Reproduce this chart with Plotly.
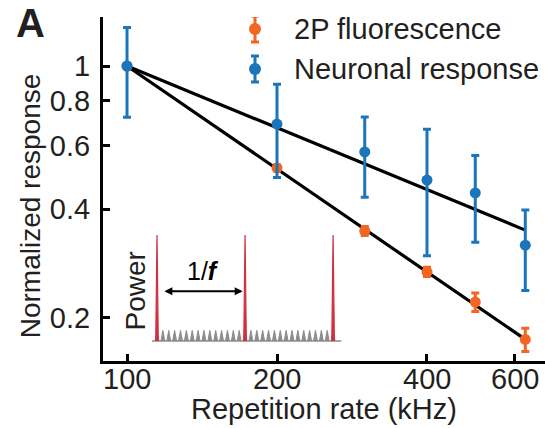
import math
import plotly.graph_objects as go

# Normalized response vs. laser repetition rate
rates = [100, 200, 300, 400, 500, 630]
fluorescence = [1.0, 0.521, 0.348, 0.268, 0.221, 0.174]
fluorescence_err = [0.0, 0.010, 0.010, 0.008, 0.013, 0.013]
neuronal = [1.0, 0.690, 0.577, 0.482, 0.444, 0.318]
neuronal_err = [0.28, 0.20, 0.145, 0.185, 0.12, 0.08]

# Power-law fits
fit_rates = [100, 630]
fit_fluorescence = [1.0, 0.174]
fit_neuronal = [1.0, 0.35]

x_ticks = [100, 200, 400, 600]
x_ticklabels = ["100", "200", "400", "600"]
y_ticks = [0.2, 0.4, 0.6, 0.8, 1]
y_ticklabels = ["0.2", "0.4", "0.6", "0.8", "1"]

series_names = ["2P fluorescence", "Neuronal response"]

# Inset: pulse train schematic (time in units of the fast pulse period)
fast_pulse_times = [0, 1, 2, 3, 4, 5, 6, 7, 8, 9, 10, 11, 12, 13, 14, 15,
                    16, 17, 18, 19, 20, 21, 22, 23, 24, 25, 26, 27, 28, 29, 30]
fast_pulse_height = 0.1
slow_pulse_times = [0, 15, 30]
slow_pulse_height = 1.0

ORANGE = "#F26522"
BLUE = "#1B75BB"
RED = "#D2303F"
GRAY = "#8C8C8C"
TEXT = "#231F20"
FONT = "Liberation Sans, Arial, sans-serif"
FS = 29

fig = go.Figure()

fig.add_trace(go.Scatter(x=fit_rates, y=fit_neuronal, mode="lines",
                         line=dict(color="black", width=3.2), showlegend=False))
fig.add_trace(go.Scatter(x=fit_rates, y=fit_fluorescence, mode="lines",
                         line=dict(color="black", width=3.2), showlegend=False))

fig.add_trace(go.Scatter(
    x=rates, y=fluorescence, mode="markers", name=series_names[0],
    marker=dict(color=ORANGE, size=11), showlegend=False, cliponaxis=False,
    error_y=dict(type="data", array=fluorescence_err, color=ORANGE,
                 thickness=3, width=4),
))
fig.add_trace(go.Scatter(
    x=rates, y=neuronal, mode="markers", name=series_names[1],
    marker=dict(color=BLUE, size=11), showlegend=False, cliponaxis=False,
    error_y=dict(type="data", array=neuronal_err, color=BLUE,
                 thickness=3, width=4),
))

# Legend keys (marker with error bar) on a pixel-scaled overlay axis
legend_colors = [ORANGE, BLUE]
legend_key_x = 255
legend_key_y = [29, 69]
for name, color, ky in zip(series_names, legend_colors, legend_key_y):
    fig.add_trace(go.Scatter(
        x=[legend_key_x], y=[ky], mode="markers", xaxis="x3", yaxis="y3",
        marker=dict(color=color, size=12), showlegend=False, cliponaxis=False,
        hoverinfo="skip",
        error_y=dict(type="constant", value=13, color=color, thickness=3, width=4),
    ))
    fig.add_annotation(text=name, x=legend_key_x + 37, y=ky, xref="x3", yref="y3",
                       xanchor="left", yanchor="middle", showarrow=False,
                       font=dict(family=FONT, size=FS, color=TEXT))

# Inset traces: triangle-shaped pulses built from the pulse times
def pulse_path(times, height, half_width):
    xs, ys = [], []
    for t in times:
        xs += [t - half_width, t, t + half_width, None]
        ys += [0, height, 0, None]
    return xs, ys

fx, fy = pulse_path(fast_pulse_times, fast_pulse_height, 0.33)
sx, sy = pulse_path(slow_pulse_times, slow_pulse_height, 0.22)

fig.add_trace(go.Scatter(x=[-0.85, 31.4], y=[0, 0], mode="lines",
                         line=dict(color=GRAY, width=1.5),
                         xaxis="x2", yaxis="y2", showlegend=False))
fig.add_trace(go.Scatter(x=fx, y=fy, mode="lines", fill="toself",
                         fillcolor=GRAY, line=dict(color=GRAY, width=1),
                         xaxis="x2", yaxis="y2", showlegend=False))
fig.add_trace(go.Scatter(x=sx, y=sy, mode="lines", fill="toself",
                         fillcolor=RED, line=dict(color=RED, width=1.2),
                         xaxis="x2", yaxis="y2", showlegend=False))

axis_common = dict(
    showline=True, linecolor="black", linewidth=3, mirror=False,
    ticks="inside", ticklen=7, tickwidth=3, tickcolor="black",
    showgrid=False, zeroline=False,
    tickfont=dict(family=FONT, size=FS, color=TEXT),
)

fig.update_layout(
    width=545, height=428,
    margin=dict(l=103, r=0, t=17, b=67),
    paper_bgcolor="white", plot_bgcolor="white",
    font=dict(family=FONT, color=TEXT, size=FS),
    showlegend=False,
    xaxis=dict(type="log", range=[1.9518, 2.8389],
               tickvals=x_ticks, showticklabels=False,
               **axis_common),
    yaxis=dict(type="log", range=[-0.8194, 0.1361],
               tickvals=y_ticks, ticktext=y_ticklabels,
               ticklabelstandoff=4,
               **axis_common),
    xaxis2=dict(domain=[0.0385, 0.5588], range=[-6.303, 32.88],
                visible=False, anchor="y2"),
    yaxis2=dict(domain=[0.0465, 0.3953], range=[-0.0377, 1.094],
                visible=False, anchor="x2"),
    xaxis3=dict(domain=[0, 1], range=[103, 545], visible=False,
                anchor="y3", overlaying="x"),
    yaxis3=dict(domain=[0, 1], range=[361, 17], visible=False,
                anchor="x3", overlaying="y"),
)

# X tick labels, placed at the tick values on the log axis
for v, lab in zip(x_ticks, x_ticklabels):
    fig.add_annotation(text=lab, x=math.log10(v), y=-0.0523, xref="x", yref="paper",
                       xanchor="center", yanchor="middle", showarrow=False,
                       font=dict(family=FONT, size=FS, color=TEXT))

# Axis titles
fig.add_annotation(text="Repetition rate (kHz)", x=0.5, y=-0.1395,
                   xref="paper", yref="paper", xanchor="center", yanchor="middle",
                   showarrow=False, font=dict(family=FONT, size=FS, color=TEXT))
fig.add_annotation(text="Normalized response", x=-0.165, y=0.45,
                   xref="paper", yref="paper", xanchor="center", yanchor="middle",
                   textangle=-90, showarrow=False,
                   font=dict(family=FONT, size=28, color=TEXT))

# Inset labels
fig.add_annotation(text="Power", x=-3.7, y=0.47, xref="x2", yref="y2",
                   xanchor="center", yanchor="middle",
                   textangle=-90, showarrow=False,
                   font=dict(family=FONT, size=28, color=TEXT))
fig.add_annotation(text="1/<b><i>f</i></b>", x=7.8, y=0.66, xref="x2", yref="y2",
                   showarrow=False, font=dict(family=FONT, size=25, color="black"))
fig.add_annotation(x=14.6, y=0.47, ax=1.0, ay=0.47,
                   xref="x2", yref="y2", axref="x2", ayref="y2",
                   text="", showarrow=True, arrowside="end+start",
                   arrowhead=2, arrowsize=0.8, arrowwidth=2, arrowcolor="black")

# Panel letter
fig.add_annotation(text="<b>A</b>", x=-0.1629, y=1.049, xref="paper", yref="paper",
                   xanchor="center", yanchor="top", borderpad=0,
                   showarrow=False, font=dict(family=FONT, size=40, color=TEXT))

fig.write_html("out.html")
